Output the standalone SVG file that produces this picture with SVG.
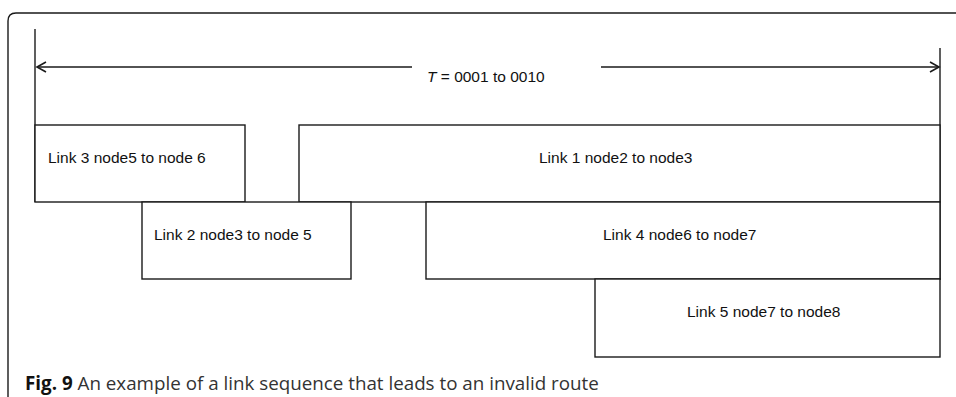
<svg xmlns="http://www.w3.org/2000/svg" width="956" height="397" viewBox="0 0 956 397">
<style>
.ln{stroke:#1a1a1a;stroke-width:1.4;fill:none}
.bx{stroke:#1a1a1a;stroke-width:1.4;fill:#fff}
.t{font-family:"Liberation Sans",Arial,sans-serif;font-size:15.5px;fill:#111}
.cap{font-family:"Open Sans","Noto Sans",sans-serif;font-size:18.8px;fill:#333}
</style>
<defs>
<marker id="ah" markerWidth="12" markerHeight="12" refX="10" refY="6" orient="auto-start-reverse" markerUnits="userSpaceOnUse">
<path d="M1,1 L10,6 L1,11" fill="none" stroke="#1a1a1a" stroke-width="1.6"/>
</marker>
</defs>
<rect width="956" height="397" fill="#fff"/>
<path class="ln" d="M8,397 V21 Q8,13 16,13 H956"/>
<g id="connectors">
<line class="ln" x1="35" y1="29" x2="35" y2="202"/>
<line class="ln" x1="940" y1="48" x2="940" y2="280"/>
<line class="ln" x1="412" y1="67" x2="37" y2="67" marker-end="url(#ah)"/>
<line class="ln" x1="601" y1="67" x2="939" y2="67" marker-end="url(#ah)"/>
</g>
<g id="period"><text class="t" x="427" y="82"><tspan font-style="italic">T</tspan> = 0001 to 0010</text></g>
<g id="link3"><rect class="bx" x="35" y="125" width="210" height="77"/><text class="t" x="48" y="163">Link 3 node5 to node 6</text></g>
<g id="link1"><rect class="bx" x="299" y="125" width="641" height="77"/><text class="t" x="539" y="163">Link 1 node2 to node3</text></g>
<g id="link2"><rect class="bx" x="142" y="202" width="209" height="77"/><text class="t" x="154" y="240">Link 2 node3 to node 5</text></g>
<g id="link4"><rect class="bx" x="426" y="202" width="514" height="77"/><text class="t" x="603" y="240">Link 4 node6 to node7</text></g>
<g id="link5"><rect class="bx" x="595" y="279" width="345" height="78"/><text class="t" x="687" y="317">Link 5 node7 to node8</text></g>
<text class="cap" x="25" y="390"><tspan font-weight="bold" fill="#111">Fig. 9</tspan> An example of a link sequence that leads to an invalid route</text>
</svg>
